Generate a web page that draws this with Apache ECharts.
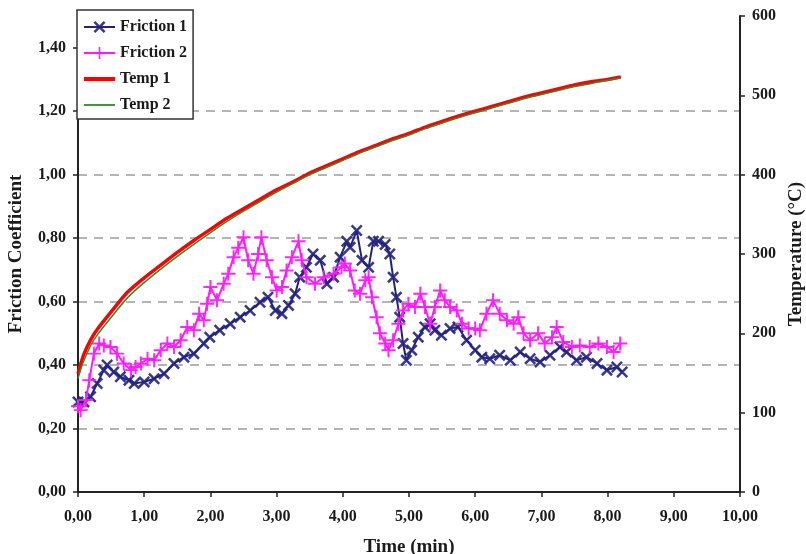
<!DOCTYPE html>
<html>
<head>
<meta charset="utf-8">
<script src="https://cdn.jsdelivr.net/npm/echarts@6/dist/echarts.min.js"></script>
<style>
html,body{margin:0;padding:0;background:#fff;}
#chart{width:806px;height:554px;}
</style>
</head>
<body>
<div id="chart"></div>
<script>
// ---- Data ----
const xTicks = [0,1,2,3,4,5,6,7,8,9,10];
const leftTicks = [0,0.2,0.4,0.6,0.8,1.0,1.2,1.4];
const rightTicks = [0,100,200,300,400,500,600];

const f1Time = [0,0.09,0.19,0.29,0.39,0.44,0.54,0.64,0.77,0.85,1.0,1.15,1.3,1.45,1.6,1.75,1.9,1.99,2.14,2.3,2.45,2.6,2.75,2.87,2.98,3.08,3.18,3.28,3.35,3.45,3.55,3.66,3.76,3.86,3.96,4.06,4.11,4.21,4.29,4.39,4.46,4.54,4.64,4.71,4.76,4.81,4.86,4.91,4.96,5.04,5.14,5.24,5.32,5.39,5.49,5.62,5.74,5.87,6.0,6.1,6.22,6.37,6.53,6.68,6.83,6.98,7.13,7.28,7.38,7.53,7.68,7.84,7.99,8.14,8.22];
const f1Value = [0.284,0.284,0.30,0.342,0.384,0.40,0.378,0.363,0.352,0.342,0.347,0.357,0.373,0.405,0.425,0.436,0.468,0.488,0.51,0.53,0.551,0.572,0.598,0.614,0.572,0.562,0.588,0.625,0.677,0.708,0.75,0.73,0.656,0.677,0.74,0.79,0.771,0.824,0.73,0.708,0.79,0.79,0.78,0.75,0.677,0.614,0.551,0.468,0.415,0.447,0.488,0.52,0.53,0.51,0.494,0.515,0.52,0.478,0.447,0.425,0.42,0.431,0.415,0.441,0.42,0.41,0.431,0.457,0.441,0.415,0.425,0.405,0.384,0.394,0.378];

const f2Time = [0,0.04,0.12,0.17,0.24,0.32,0.39,0.49,0.59,0.69,0.80,0.87,0.95,1.05,1.15,1.25,1.35,1.45,1.55,1.65,1.75,1.83,1.90,1.95,2.0,2.10,2.20,2.27,2.35,2.42,2.50,2.57,2.65,2.72,2.77,2.85,2.93,3.0,3.08,3.15,3.23,3.33,3.38,3.45,3.58,3.71,3.86,3.98,4.03,4.11,4.18,4.26,4.34,4.39,4.44,4.51,4.56,4.64,4.69,4.76,4.84,4.91,4.99,5.09,5.17,5.24,5.32,5.39,5.47,5.54,5.62,5.72,5.80,5.90,6.0,6.07,6.17,6.27,6.37,6.48,6.58,6.65,6.73,6.83,6.95,7.05,7.16,7.23,7.33,7.46,7.58,7.73,7.86,7.99,8.09,8.19];
const f2Value = [0.27,0.258,0.29,0.352,0.436,0.468,0.462,0.457,0.436,0.405,0.384,0.394,0.405,0.42,0.415,0.447,0.468,0.457,0.478,0.52,0.51,0.562,0.541,0.593,0.646,0.604,0.656,0.688,0.74,0.77,0.803,0.73,0.688,0.75,0.803,0.73,0.677,0.635,0.646,0.698,0.74,0.79,0.73,0.677,0.656,0.677,0.688,0.708,0.72,0.698,0.635,0.625,0.667,0.677,0.614,0.551,0.50,0.468,0.447,0.478,0.53,0.572,0.593,0.583,0.625,0.583,0.53,0.583,0.635,0.604,0.583,0.572,0.53,0.515,0.515,0.51,0.562,0.604,0.562,0.541,0.53,0.551,0.50,0.478,0.50,0.468,0.488,0.52,0.473,0.457,0.462,0.457,0.468,0.457,0.441,0.468];

const tempTime = [0,0.05,0.1,0.2,0.3,0.5,0.75,1.0,1.25,1.5,1.75,2.0,2.25,2.5,2.75,3.0,3.25,3.5,3.75,4.0,4.25,4.5,4.75,5.0,5.25,5.5,5.75,6.0,6.25,6.5,6.75,7.0,7.25,7.5,7.75,8.0,8.2];
const temp1 = [149,164,176,193,206,227,252,270,286,302,317,331,345,357,369,381,391,402,411,420,429,437,445,452,460,467,474,480,486,492,498,503,508,513,517,520,523];
const temp2 = [143,157,168,186,199,220,245,264,281,297,312,327,341,354,366,378,389,400,409,418,427,435,443,450,458,465,472,478,484,490,496,501,506,511,515,519,522];

// ---- helpers ----
function pairs(xs, ys){ return xs.map((x,i)=>[x, ys[i]]); }
const comma2 = v => v.toFixed(2).replace('.', ',');
const FONT = '"Liberation Serif", "Times New Roman", serif';
const TXT = '#1a1a1a';
const NOSYM = {color:'rgba(0,0,0,0)', borderColor:'rgba(0,0,0,0)', borderWidth:0};

const xSym = 'path://M0,1.5L1.5,0L10,8.5L8.5,10Z M8.5,0L10,1.5L1.5,10L0,8.5Z';
const plusSym = 'path://M4.3,0H5.7V10H4.3Z M0,4.3H10V5.7H0Z';

const chart = echarts.init(document.getElementById('chart'), null, {renderer:'canvas'});
chart.setOption({
  animation:false,
  backgroundColor:'#fff',
  textStyle:{fontFamily:FONT},
  grid:{left:78, right:66, top:16, bottom:62, containLabel:false, outerBoundsMode:'none'},
  legend:{
    orient:'vertical', left:77, top:10,
    backgroundColor:'#fff', borderColor:'#333', borderWidth:1.5, borderRadius:0,
    padding:[9,6,6,5], itemGap:10, itemWidth:31, itemHeight:15,
    textStyle:{fontFamily:FONT, fontWeight:'bold', fontSize:16, color:TXT},
    data:[
      {name:'Friction 1'},
      {name:'Friction 2'},
      {name:'Temp 1', itemStyle:NOSYM, lineStyle:{width:4, color:'#ff0000'}},
      {name:'Temp 2', itemStyle:NOSYM, lineStyle:{width:2, color:'#3a9a3a'}}
    ]
  },
  xAxis:{
    type:'value', min:0, max:10, interval:1,
    name:'Time (min)', nameLocation:'middle', nameGap:46,
    nameTextStyle:{fontFamily:FONT, fontWeight:'bold', fontSize:19, color:TXT},
    axisLine:{lineStyle:{color:'#222', width:2}},
    axisTick:{show:true, inside:false, length:5, lineStyle:{color:'#222', width:1.5}},
    axisLabel:{formatter:comma2, margin:17, fontFamily:FONT, fontWeight:'bold', fontSize:16, color:TXT},
    splitLine:{show:false}
  },
  yAxis:[{
    type:'value', min:0, max:1.5, interval:0.2, position:'left',
    name:'Friction Coefficient', nameLocation:'middle', nameGap:52, nameRotate:90,
    nameTextStyle:{fontFamily:FONT, fontWeight:'bold', fontSize:19, color:TXT},
    axisLine:{show:true, lineStyle:{color:'#222', width:2}},
    axisTick:{show:true, length:5, lineStyle:{color:'#222', width:1.5}, customValues:leftTicks},
    axisLabel:{customValues:leftTicks, formatter:comma2, margin:12, fontFamily:FONT, fontWeight:'bold', fontSize:16, color:TXT},
    splitLine:{show:true, showMinLine:false, showMaxLine:false, lineStyle:{color:'#b4b4b4', width:2, type:[9,7]}}
  },{
    type:'value', min:0, max:600, interval:100, position:'right',
    name:'Temperature (°C)', nameLocation:'middle', nameGap:46, nameRotate:90,
    nameTextStyle:{fontFamily:FONT, fontWeight:'bold', fontSize:19, color:TXT},
    axisLine:{show:true, lineStyle:{color:'#222', width:2}},
    axisTick:{show:true, length:5, lineStyle:{color:'#222', width:1.5}},
    axisLabel:{formatter:v=>String(v), margin:12, fontFamily:FONT, fontWeight:'bold', fontSize:16, color:TXT},
    splitLine:{show:false}
  }],
  series:[
    {name:'Friction 1', type:'line', yAxisIndex:0, data:pairs(f1Time,f1Value),
     symbol:xSym, symbolSize:12, showAllSymbol:true,
     itemStyle:{color:'#23237f', opacity:0.9}, lineStyle:{color:'#23237f', width:2}, z:3},
    {name:'Friction 2', type:'line', yAxisIndex:0, data:pairs(f2Time,f2Value),
     symbol:plusSym, symbolSize:14, showAllSymbol:true,
     itemStyle:{color:'#ff1aff', opacity:0.95}, lineStyle:{color:'#ff1aff', width:2}, z:4},
    {name:'Temp 1', type:'line', yAxisIndex:1, data:pairs(tempTime,temp1),
     symbol:'none', smooth:0.3, lineStyle:{color:'#ff0000', width:3.5}, itemStyle:{color:'#ff0000'}, z:5},
    {name:'Temp 2', type:'line', yAxisIndex:1, data:pairs(tempTime,temp2),
     symbol:'none', smooth:0.3, lineStyle:{color:'#2e8b2e', width:1.5}, itemStyle:{color:'#2e8b2e'}, z:6}
  ]
});
</script>
</body>
</html>
